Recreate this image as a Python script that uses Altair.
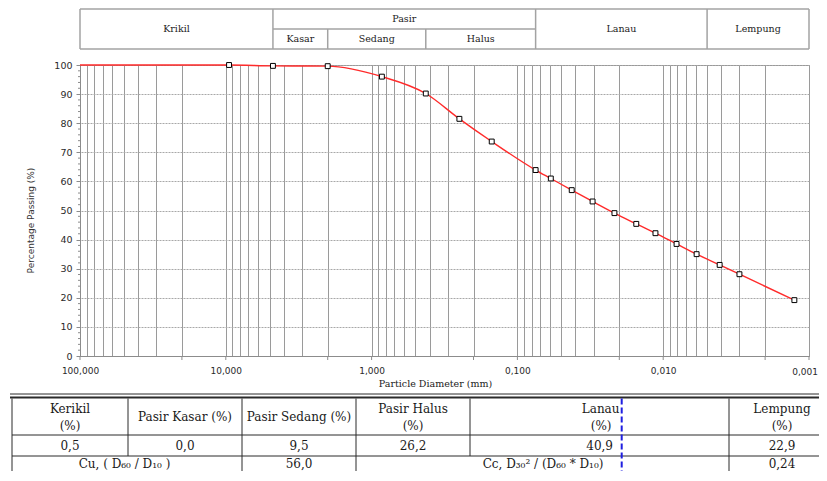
import altair as alt
import pandas as pd

# ---------------- data ----------------
diameter_mm = [9.5, 4.75, 2.0, 0.85, 0.425, 0.25, 0.15, 0.075, 0.059, 0.0424,
               0.0305, 0.0216, 0.0153, 0.0113, 0.0081, 0.0059, 0.0041, 0.0030, 0.00126]
passing_pct = [100.0, 99.7, 99.6, 96.0, 90.2, 81.5, 73.7, 63.9, 61.0, 57.0,
               53.1, 49.1, 45.4, 42.2, 38.5, 35.0, 31.3, 28.1, 19.2]
curve_start_mm = [100.0]
curve_start_pct = [100.0]

# soil classification bands (mm)
main_bands = ["Krikil", "Pasir", "Lanau", "Lempung"]
main_from = [100.0, 4.75, 0.075, 0.005]
main_to = [4.75, 0.075, 0.005, 0.001]
sand_bands = ["Kasar", "Sedang", "Halus"]
sand_from = [4.75, 2.0, 0.425]
sand_to = [2.0, 0.425, 0.075]

# axis ticks
y_major = list(range(0, 101, 10))
y_minor = [v for v in range(0, 101, 2) if v % 10]
decades = [100.0, 10.0, 1.0, 0.1, 0.01]
x_grid = [round(d * m / 10, 6) for d in decades for m in range(10, 0, -1)] + [0.001]
x_grid = sorted(set(x_grid), reverse=True)
x_ticks = [100, 20, 10, 2, 1, 0.2, 0.1, 0.02, 0.01, 0.002, 0.001]
x_last_label = [0.001]

# summary table
head_line1 = ["Kerikil", "Pasir Kasar (%)", "Pasir Sedang (%)", "Pasir Halus", "Lanau", "Lempung"]
head_line2 = ["(%)", "", "", "(%)", "(%)", "(%)"]
fractions = [0.5, 0.0, 9.5, 26.2, 40.9, 22.9]
cu_label = "Cu,  ( D\u2086\u2080 / D\u2081\u2080 )"
cu_value = 56.0
cc_label = "Cc,  D\u2083\u2080\u00b2 / (D\u2086\u2080 * D\u2081\u2080)"
cc_value = 0.24


def fmt(v, nd=1):
    return f"{v:.{nd}f}".replace(".", ",")


W, H = 729, 291
one = pd.DataFrame({"k": [0]})

xscale = alt.Scale(type="log", domain=[0.001, 100], reverse=True, nice=False)
yscale = alt.Scale(domain=[0, 100], nice=False)

xaxis = alt.Axis(
    values=x_grid,
    labelExpr="(datum.value > 0.0011 && abs(log(datum.value)/LN10 - round(log(datum.value)/LN10)) < 1e-6) ? replace(format(datum.value, '.3f'), '.', ',') : ''",
    grid=True, gridColor="#9a9a9a", gridWidth=1,
    ticks=False, domainColor="#8c8c8c",
    labelFont="DejaVu Sans", labelFontSize=9, labelColor="#2a2a2a",
    labelPadding=10, labelFlush=False, labelOverlap=False, labelBound=False,
    title="Particle Diameter (mm)", titleFont="DejaVu Serif", titleFontSize=9.5,
    titleFontWeight="normal", titleColor="#222222",
    titleX=355, titleY=27, titleBaseline="middle", titleAlign="center",
)
yaxis = alt.Axis(
    values=y_major, grid=True, gridColor="#a8a8a8", gridDash=[2, 1], gridWidth=1,
    tickColor="#8c8c8c", tickSize=4, domainColor="#8c8c8c",
    labelFont="DejaVu Sans", labelFontSize=9.5, labelColor="#2a2a2a", labelPadding=4,
    labelOverlap=False, labelFlush=False,
    title="Percentage Passing (%)", titleFont="DejaVu Sans", titleFontSize=9,
    titleFontWeight="normal", titleColor="#333333",
    titleX=-50, titleY=155, titleAngle=270, titleAlign="center", titleBaseline="middle",
)


def X(field="diam:Q"):
    return alt.X(field, scale=xscale, axis=xaxis)


def Y(field="pct:Q"):
    return alt.Y(field, scale=yscale, axis=yaxis)


pts = pd.DataFrame({"diam": diameter_mm, "pct": passing_pct})
curve = pd.DataFrame({"diam": curve_start_mm + diameter_mm, "pct": curve_start_pct + passing_pct})

layers = []

layers.append(alt.Chart(curve).mark_line(color="#ff2b2b", strokeWidth=1.4, interpolate="monotone").encode(
    x=X(), y=Y()))
layers.append(alt.Chart(pts).mark_square(size=24, fill="white", stroke="black", strokeWidth=1, opacity=1).encode(
    x=X(), y=Y()))

# minor ticks on y, ticks on x, last x label kept inside the page
layers.append(alt.Chart(pd.DataFrame({"pct": y_minor})).mark_rule(color="#8c8c8c", strokeWidth=1).encode(
    y=Y(), x=alt.value(-2), x2=alt.value(0)))
layers.append(alt.Chart(pd.DataFrame({"diam": x_ticks})).mark_rule(color="#8c8c8c", strokeWidth=1).encode(
    x=X(), y=alt.value(H), y2=alt.value(H + 4)))
layers.append(alt.Chart(pd.DataFrame({"diam": x_last_label,
                                      "lab": [fmt(v, 3) for v in x_last_label]})).mark_text(
    font="DejaVu Sans", fontSize=9, color="#2a2a2a", align="right", baseline="middle", dx=9).encode(
    x=X(), y=alt.value(H + 15.5), text="lab:N"))

# ---------------- header band table (on the x scale) ----------------
HC = "#a3a3a3"
HT, HM, HB = -56, -36, -16
hdr_from = [100.0, 100.0, 4.75]
hdr_to = [0.001, 0.001, 0.075]
hdr_y = [HT, HB, HM]
for a, b, yy in zip(hdr_from, hdr_to, hdr_y):
    layers.append(alt.Chart(pd.DataFrame({"diam": [a], "diam2": [b]})).mark_rule(color=HC, strokeWidth=1.5).encode(
        x=X(), x2="diam2:Q", y=alt.value(yy)))
full_v = pd.DataFrame({"diam": [100.0, 4.75, 0.075, 0.005, 0.001]})
layers.append(alt.Chart(full_v).mark_rule(color=HC, strokeWidth=1.5).encode(
    x=X(), y=alt.value(HT), y2=alt.value(HB)))
half_v = pd.DataFrame({"diam": [2.0, 0.425]})
layers.append(alt.Chart(half_v).mark_rule(color=HC, strokeWidth=1.5).encode(
    x=X(), y=alt.value(HM), y2=alt.value(HB)))

main_mid = [(a * b) ** 0.5 for a, b in zip(main_from, main_to)]
main_y = [(HT + HB) / 2, (HT + HM) / 2, (HT + HB) / 2, (HT + HB) / 2]
for band, d, yy in zip(main_bands, main_mid, main_y):
    layers.append(alt.Chart(pd.DataFrame({"diam": [d], "band": [band]})).mark_text(
        font="DejaVu Serif", fontSize=9.5, color="#222222", baseline="middle").encode(
        x=X(), y=alt.value(yy), text="band:N"))
sand_df = pd.DataFrame({"band": sand_bands,
                        "diam": [(a * b) ** 0.5 for a, b in zip(sand_from, sand_to)]})
layers.append(alt.Chart(sand_df).mark_text(
    font="DejaVu Serif", fontSize=9.5, color="#222222", baseline="middle").encode(
    x=X(), y=alt.value((HM + HB) / 2), text="band:N"))

# ---------------- summary table (page layout, pixels) ----------------
TC = "#2a2a2a"
X0, X1 = -68, 747
cols = [-68, 48, 162, 276, 390, 649]
R0, R1, R2, R3 = 333.5, 370, 391, 406


def hline(x1, x2, y, w=1, color=TC):
    return alt.Chart(one).mark_rule(color=color, strokeWidth=w).encode(
        x=alt.value(x1), x2=alt.value(x2), y=alt.value(y))


def vline(x, y1, y2, w=1, color=TC, dash=None):
    kw = {"strokeDash": dash} if dash else {}
    return alt.Chart(one).mark_rule(color=color, strokeWidth=w, **kw).encode(
        x=alt.value(x), y=alt.value(y1), y2=alt.value(y2))


layers.append(hline(-70, 747, 329, 1))
layers.append(hline(-70, 747, 332.5, 2))
layers.append(hline(X0, X1, R1, 1))
layers.append(hline(X0, X1, R2, 1))
for c in cols:
    layers.append(vline(c, R0, R2))
for c in [-68, 162, 276, 649]:
    layers.append(vline(c, R2, R3))
layers.append(vline(541.7, R0, R3, 2, "#1f1fe0", [6, 3]))


def txt(s, x, y, align="center"):
    return alt.Chart(one).mark_text(text=s, font="DejaVu Serif", fontSize=12, color="#1a1a1a",
                                    align=align, baseline="middle").encode(x=alt.value(x), y=alt.value(y))


centers = [-10, 105, 219, 333, 539.5, 702]
aligns = ["center", "center", "center", "center", "right", "center"]
single = [False, True, True, False, False, False]
for i in range(6):
    if single[i]:
        layers.append(txt(head_line1[i], centers[i], 352, aligns[i]))
    else:
        layers.append(txt(head_line1[i], centers[i], 343.5, aligns[i]))
        layers.append(txt(head_line2[i], centers[i] - (8 if aligns[i] == "right" else 0), 361, aligns[i]))
val_x = [-10, 105, 219, 333, 533, 702]
for i, v in enumerate(fractions):
    layers.append(txt(fmt(v), val_x[i], 380.5, aligns[i]))
layers.append(txt(cu_label, 44.5, 399))
layers.append(txt(fmt(cu_value), 219, 399))
layers.append(txt(cc_label, 463, 399))
layers.append(txt(fmt(cc_value, 2), 702, 399))

chart = alt.layer(*layers).properties(
    width=W, height=H,
    autosize=alt.AutoSizeParams(type="none"),
    padding={"left": 72, "top": 57, "right": 10, "bottom": 115},
).configure_view(stroke="#8c8c8c", strokeWidth=1)

chart.save("out.html", embed_options={"renderer": "svg", "actions": False})
